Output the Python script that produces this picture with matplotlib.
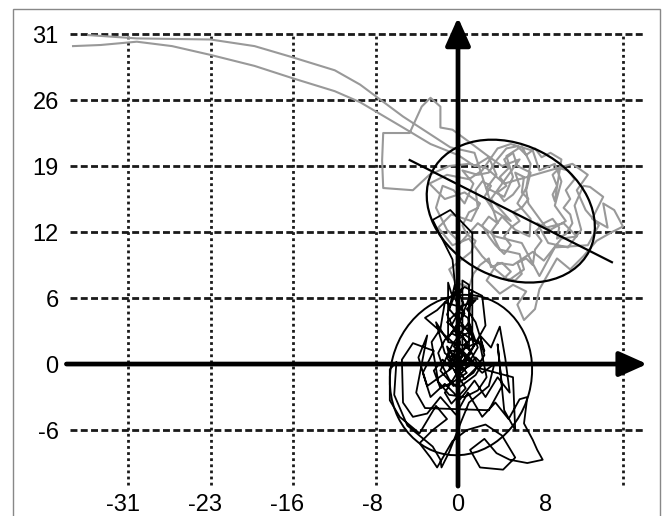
import numpy as np
import matplotlib
matplotlib.use('Agg')
import matplotlib.pyplot as plt
from matplotlib.patches import Ellipse, Rectangle

plt.rcParams['font.family'] = ['Liberation Sans', 'DejaVu Sans']

# tick labels as printed in the source picture
ytick_pos = [-6, 0, 6, 12, 18, 24, 30]
ytick_lab = ['-6', '0', '6', '12', '19', '26', '31']
xtick_pos = [-30.5, -23, -15.5, -7.8, 0, 8]
xtick_lab = ['-31', '-23', '-16', '-8', '0', '8']
xgrid = [-30, -22.5, -15, -7.5, 15]
ygrid = [-6, 6, 12, 18, 24, 30]

# gray trace
gray_pts = [
    (-35.0, 28.9), (-32.5, 29.0), (-29.2, 29.3), (-26.0, 28.9), (-22.5, 28.1),
    (-18.5, 27.1), (-15.1, 26.0), (-11.2, 24.8), (-8.9, 23.8), (-5.0, 21.5),
    (-2.5, 20.0), (0.0, 19.0), (1.5, 18.0), (2.8, 18.8), (3.5, 17.2), (2.6, 16.0),
    (4.2, 15.2), (5.0, 17.0), (4.4, 18.9), (5.8, 19.8), (6.6, 18.2), (6.2, 16.0),
    (5.4, 14.6), (6.6, 13.2), (6.5, 11.6), (5.2, 12.2), (4.0, 13.4), (3.0, 12.0),
    (3.8, 10.4), (5.6, 10.0), (6.0, 8.6), (4.6, 7.6), (3.4, 8.6), (2.2, 9.8),
    (1.0, 11.4), (-0.5, 10.8), (-1.8, 12.4), (-0.6, 13.6), (1.2, 13.0), (2.0, 14.6),
    (0.6, 15.6), (-1.2, 15.0), (-2.6, 16.4), (-1.0, 17.2), (1.0, 16.8), (2.2, 17.6),
    (3.6, 19.6), (4.8, 20.0), (6.8, 19.4), (7.4, 17.6), (8.8, 18.2), (9.4, 16.6),
    (8.8, 14.4), (9.8, 13.0), (8.4, 12.2), (7.2, 12.8), (8.2, 11.0), (10.0, 10.6),
    (11.2, 12.2), (10.6, 14.4), (11.4, 16.2), (12.0, 16.1), (13.2, 15.2), (12.2, 13.2),
    (13.6, 12.4), (13.2, 14.6), (14.2, 14.0), (15.0, 12.5), (14.0, 12.0), (12.6, 11.2),
    (11.4, 9.8), (10.2, 8.6), (9.0, 9.6), (8.2, 8.2), (7.4, 6.8), (7.0, 5.0),
    (6.0, 4.0), (5.4, 5.4), (6.2, 6.6), (5.0, 7.2), (3.8, 6.4), (2.6, 7.6),
    (3.6, 9.2), (5.0, 9.0), (6.8, 10.2), (7.8, 9.4), (9.4, 11.4), (10.8, 11.6),
    (9.6, 12.8), (8.0, 12.4), (6.4, 14.6), (6.2, 15.8), (6.6, 17.4), (5.4, 18.0),
    (5.0, 19.2), (4.2, 18.6), (4.6, 17.8), (3.8, 17.0), (4.4, 16.2), (3.6, 15.6),
    (4.2, 14.8), (5.0, 15.4), (5.6, 16.2), (5.2, 17.4), (6.0, 17.0), (5.8, 15.6),
    (6.4, 15.0), (5.8, 14.2), (5.0, 13.8), (5.6, 13.0), (4.8, 12.4), (4.2, 11.6),
    (4.8, 10.8), (4.2, 10.0), (3.4, 10.8), (2.8, 11.6), (2.2, 12.6), (2.8, 13.4),
    (3.6, 12.8), (3.2, 14.0), (2.4, 15.2), (3.0, 16.2), (2.2, 16.6), (1.6, 15.8),
    (1.8, 14.2), (1.0, 13.8), (0.4, 12.6), (0.8, 11.8), (1.6, 11.2), (1.2, 10.2),
    (0.2, 9.4), (-0.8, 8.6), (-0.2, 7.4), (1.0, 7.0), (1.4, 8.2), (2.0, 9.0),
    (2.8, 9.6), (3.0, 8.8), (4.0, 9.2), (4.8, 8.4), (4.2, 7.8), (5.2, 7.6),
    (5.8, 8.2), (5.4, 9.2), (6.2, 9.6), (6.8, 9.0), (7.0, 10.4), (7.6, 11.2),
    (7.0, 12.0), (7.8, 12.8), (8.6, 13.2), (9.2, 12.4), (9.0, 11.4), (9.8, 11.8),
    (10.4, 12.8), (10.2, 13.6), (9.6, 14.2), (10.2, 15.0), (9.8, 15.8), (10.6, 16.8),
    (10.0, 17.6), (9.2, 17.8), (8.6, 17.2), (9.0, 16.2), (8.6, 15.4), (8.8, 14.8),
    (9.4, 18.6), (8.4, 19.2), (7.6, 18.8), (7.0, 19.6), (6.2, 19.0), (5.4, 19.8),
    (4.4, 19.6), (3.4, 18.4), (2.8, 17.4), (1.8, 17.2), (0.4, 17.6), (1.4, 16.4),
    (0.6, 14.6), (-0.4, 15.8), (-1.4, 16.2), (-2.0, 14.2), (-1.0, 12.2), (0.2, 11.0),
    (1.8, 12.8), (3.4, 11.6), (5.8, 11.0), (7.4, 8.0), (8.8, 10.6), (11.8, 10.8),
    (12.8, 12.6), (11.6, 14.0), (10.8, 15.8), (11.8, 17.2), (10.4, 18.2),
    (4.2, 16.4), (2.6, 17.8), (1.0, 18.2), (-0.8, 18.0), (-2.6, 17.2), (-4.1, 15.8),
    (-6.8, 16.0), (-6.9, 18.5), (-6.8, 21.0), (-4.4, 21.0), (-3.3, 23.4), (-2.5, 24.2),
    (-1.6, 23.4), (-1.6, 21.5), (-0.5, 21.3), (1.0, 20.2), (2.6, 19.0), (4.0, 18.0),
    (5.6, 18.6), (3.0, 15.0), (4.8, 13.0), (3.2, 14.0), (1.5, 19.2), (-0.7, 19.7),
    (-5.0, 22.5), (-8.9, 25.4), (-11.2, 26.7), (-15.1, 27.9), (-18.5, 28.9),
    (-22.5, 29.5), (-29.2, 29.6), (-33.6, 29.9),
]

# black trace
black_pts = [
    (0.2, 0.5), (0.8, 2.0), (-0.6, 3.5), (0.5, 5.5), (-0.3, 7.2), (-0.8, 5.0),
    (0.9, 3.0), (1.2, 6.5), (0.3, 4.2), (-1.0, 2.2), (-2.0, 3.8), (-1.2, 1.0),
    (0.6, -0.5), (1.8, 1.5), (1.0, 3.8), (-0.5, 1.8), (-1.6, -0.6), (-0.4, -2.0),
    (1.4, -0.8), (2.4, 0.8), (2.0, 2.6), (3.0, 1.5), (3.8, 3.4), (4.3, 0.5),
    (4.7, -2.6), (3.6, -1.2), (2.5, -3.0), (1.5, -1.5), (0.2, -3.2), (-1.2, -1.8),
    (-2.5, -3.0), (-3.2, -0.8), (-2.2, 1.2), (-4.1, 1.9), (-5.1, 0.4), (-5.0, -3.5),
    (-4.1, -4.8), (-2.8, -4.5), (-1.6, -3.0), (-0.2, -4.6), (0.9, -2.6), (2.2, -4.8),
    (3.4, -3.5), (4.6, -5.0), (5.6, -3.2), (6.3, -3.0), (6.0, -5.4), (6.8, -6.9),
    (7.2, -7.8), (7.7, -8.7), (6.3, -9.0), (4.7, -8.7), (3.5, -8.1), (2.4, -6.8),
    (1.1, -7.8), (2.0, -9.4), (4.1, -9.6), (5.2, -8.5), (4.0, -6.5), (2.5, -5.5),
    (0.8, -6.0), (-0.5, -7.0), (-1.9, -9.4), (-2.5, -8.5), (-3.5, -7.2), (-2.3, -6.0),
    (-1.0, -5.0), (-2.0, -3.8), (-3.5, -6.3), (-5.3, -4.8), (-6.2, -3.3), (-6.2, -0.5),
    (-5.6, 0.2), (-5.8, -2.8), (-4.6, -5.6), (-2.3, -7.5), (-1.6, -8.7), (-1.5, -9.4),
    (-0.8, -8.0), (0.3, -5.2), (1.0, -3.5), (2.8, -2.0), (3.3, 0.0), (2.2, -0.8),
    (0.5, 0.8), (-0.8, -0.5), (-0.2, 1.5), (1.2, 0.2), (0.0, -1.2), (-1.0, 0.6),
    (0.4, 1.0), (-0.4, 1.6), (0.2, 2.4), (-0.6, 2.8), (0.0, 3.6), (0.8, 3.2),
    (1.4, 2.4), (0.6, 1.8), (1.2, 1.0), (0.4, 0.2), (-0.4, 0.8), (-1.0, 1.6),
    (-0.6, 0.0), (0.2, -0.6), (1.0, -0.2), (1.6, 0.6), (2.2, 0.0), (1.6, -1.0),
    (0.8, -1.6), (0.0, -2.2), (-0.8, -1.4), (-1.4, -0.2), (-1.8, 1.0), (-1.2, 2.2),
    (-0.4, 3.0), (0.6, 4.6), (-0.2, 5.8), (0.4, 6.8), (-0.6, 6.4), (-0.9, 7.4),
    (-0.9, 2.0), (1.0, 1.6), (1.0, 7.2), (0.4, 7.6), (0.4, 0.8), (-0.2, -0.8),
    (1.8, 2.2), (2.4, 1.2), (1.6, 3.8), (0.8, 5.0), (1.6, 5.8), (0.2, 5.2),
    (-1.2, 5.6), (-1.6, 3.2), (-2.4, 2.0), (-1.8, -1.6), (-0.8, -2.8), (0.6, -3.0),
    (1.8, -2.4), (2.6, -1.2), (2.0, 1.8), (1.0, 2.4), (-0.2, 3.2), (-1.0, 3.8),
    (0.0, 4.8), (0.9, 4.2), (1.4, 1.8), (0.2, 1.2), (-0.8, 1.2), (-0.2, 0.4),
    (0.8, -0.8), (-0.4, -1.6), (-1.6, -2.2), (-2.2, -0.6), (-1.4, 0.4), (-0.6, -0.4),
    (-2.8, -2.0), (-3.6, 0.6), (-2.8, 2.6), (-3.8, -2.6), (-3.0, -4.0), (2.8, -4.2),
    (4.0, -2.0), (3.6, 1.8), (4.2, -4.2), (5.2, -6.0), (5.0, -1.2), (2.0, -0.4),
    (0.4, 2.6), (1.3, 3.0), (1.3, 11.9), (-0.7, 14.0), (-2.3, 13.1), (-0.5, 9.5),
    (-0.2, 6.5), (-1.0, 4.5), (0.2, 2.0), (-0.4, 0.2), (0.6, -1.4), (1.8, -0.2),
    (0.4, 1.2), (-1.4, 2.8), (-3.0, 4.2), (-1.9, 4.9), (-0.7, 6.1), (0.6, 7.0),
    (2.2, 6.2), (2.5, 3.5), (1.2, 1.2), (-0.3, -0.6), (0.7, -2.2), (-0.6, -3.6),
    (-1.2, -2.6), (-0.2, -1.0), (1.0, 0.6), (0.5, 0.0),
]

# ellipses: centre x, centre y, major, minor, angle (deg)
gray_ell = [4.8, 13.9, 16.0, 12.1, -26.8]
gray_axis_half = 10.3
black_ell = [0.27, -1.0, 14.7, 12.8, 75]

fig = plt.figure(figsize=(6.7, 5.16), dpi=100)
ax = fig.add_axes([65/670, 1 - 490/516, 590/670, 478/516])
ax.set_xlim(-35.73, 17.91)
ax.set_ylim(-11.45, 32.0)

# grid
for gy in ygrid:
    ax.plot([-35.3, 16.8], [gy, gy], color='#1a1a1a', lw=2,
            linestyle=(0, (2.5, 1.2)), zorder=1)
for gx in xgrid:
    ax.plot([gx, gx], [-11.0, 30.1], color='#1a1a1a', lw=2,
            linestyle=(0, (1, 1.2)), zorder=1)

gx_, gy_ = np.array(gray_pts).T
ax.plot(gx_, gy_, color='#999999', lw=1.5, zorder=2)
bx_, by_ = np.array(black_pts).T
ax.plot(bx_, by_, color='black', lw=1.3, zorder=3)

cx, cy, w, h, ang = gray_ell
ax.add_patch(Ellipse((cx, cy), w, h, angle=ang, fill=False, ec='black', lw=1.6, zorder=4))
t = np.deg2rad(ang)
ax.plot([cx - gray_axis_half*np.cos(t), cx + gray_axis_half*np.cos(t)],
        [cy - gray_axis_half*np.sin(t), cy + gray_axis_half*np.sin(t)],
        color='black', lw=1.6, zorder=4)
cx, cy, w, h, ang = black_ell
ax.add_patch(Ellipse((cx, cy), w, h, angle=ang, fill=False, ec='black', lw=1.4, zorder=4))

# axes arrows
arw = dict(arrowstyle='-|>,head_length=0.85,head_width=0.38', lw=3.4, color='black',
           mutation_scale=20, shrinkA=0, shrinkB=0)
ax.annotate('', xy=(17.2, 0), xytext=(-35.6, 0), arrowprops=arw, zorder=5)
ax.annotate('', xy=(0, 31.5), xytext=(0, -11.1), arrowprops=arw, zorder=5)

ax.set_xticks(xtick_pos, xtick_lab)
ax.set_yticks(ytick_pos, ytick_lab)
ax.tick_params(length=0, labelsize=17)
ax.tick_params(axis='x', pad=3)
ax.tick_params(axis='y', pad=4.5)
for s in ax.spines.values():
    s.set_visible(False)

fig.add_artist(Rectangle((13/670, -0.02), 647/670, (516 - 9)/516 + 0.02,
                         transform=fig.transFigure, fill=False, ec='#888888', lw=1))

fig.savefig('out.png', dpi=100)
